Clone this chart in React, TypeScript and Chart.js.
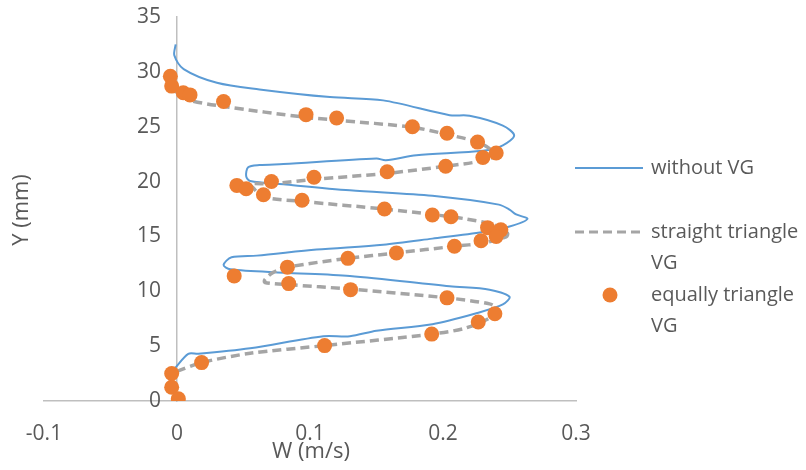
import React, { useEffect, useRef } from "react";
import { Chart, registerables } from "chart.js";

Chart.register(...registerables);

// without VG (solid blue)
const blueX = [-0.0015, 0.0085, 0.016, 0.055, 0.11, 0.13, 0.15, 0.192, 0.225, 0.245, 0.25, 0.235, 0.205, 0.13, 0.08, 0.04, 0.035, 0.041, 0.06, 0.105, 0.155, 0.192, 0.23, 0.25, 0.2635, 0.255, 0.25, 0.242, 0.192, 0.13, 0.08, 0.055, 0.052, 0.0535, 0.062, 0.08, 0.15, 0.157, 0.18, 0.23, 0.245, 0.2535, 0.245, 0.22, 0.205, 0.155, 0.115, 0.062, 0.03, 0.005, -0.002, -0.001];
const blueY = [3.0, 4.3, 4.3, 4.8, 5.9, 5.9, 6.4, 7.0, 8.0, 8.8, 9.5, 10.15, 10.45, 11.4, 11.7, 12.0, 12.4, 13.1, 13.25, 13.8, 14.25, 14.8, 15.4, 15.9, 16.6, 17.0, 17.45, 17.9, 18.7, 19.2, 19.75, 20.05, 20.5, 21.3, 21.5, 21.6, 22.1, 21.95, 22.4, 22.8, 23.3, 24.2, 25.1, 26.0, 26.05, 27.4, 27.7, 28.4, 29.0, 30.25, 31.5, 32.5];

// straight triangle VG (dashed grey)
const greyX = [0, 0.0185, 0.055, 0.111, 0.1915, 0.217, 0.237, 0.24, 0.235, 0.203, 0.13, 0.085, 0.066, 0.066, 0.072, 0.083, 0.1285, 0.165, 0.2086, 0.23, 0.2475, 0.2485, 0.24, 0.217, 0.192, 0.156, 0.0935, 0.065, 0.057, 0.055, 0.071, 0.103, 0.158, 0.202, 0.23, 0.24, 0.235, 0.226, 0.203, 0.177, 0.12, 0.097, 0.035, 0.0098, 0.001, -0.004];
const greyY = [2.7, 3.5, 4.35, 5.05, 6.1, 6.65, 7.7, 8.45, 8.85, 9.4, 10.2, 10.6, 10.8, 11.05, 11.7, 12.2, 13.0, 13.5, 14.1, 14.4, 14.95, 15.3, 16.0, 16.6, 17.0, 17.5, 18.2, 18.6, 19.45, 19.8, 19.8, 20.2, 20.75, 21.4, 21.9, 22.4, 23.0, 23.6, 24.3, 24.95, 25.6, 25.85, 26.85, 27.4, 28.0, 28.6];

// equally triangle VG (orange markers)
const orangeX = [-0.005, -0.004, 0.0047, 0.0098, 0.035, 0.097, 0.12, 0.177, 0.203, 0.226, 0.24, 0.23, 0.202, 0.158, 0.103, 0.071, 0.045, 0.052, 0.065, 0.094, 0.156, 0.192, 0.206, 0.2335, 0.2435, 0.24, 0.2286, 0.2086, 0.165, 0.1285, 0.083, 0.043, 0.084, 0.1305, 0.203, 0.239, 0.2265, 0.1915, 0.111, 0.0185, -0.004, -0.004, 0.001];
const orangeY = [29.6, 28.7, 28.1, 27.9, 27.3, 26.1, 25.8, 25.0, 24.4, 23.6, 22.6, 22.2, 21.4, 20.9, 20.4, 20.0, 19.65, 19.35, 18.8, 18.3, 17.5, 16.95, 16.8, 15.8, 15.6, 15.0, 14.6, 14.1, 13.5, 13.0, 12.2, 11.4, 10.7, 10.15, 9.4, 7.95, 7.2, 6.1, 5.05, 3.5, 2.5, 1.25, 0.2];

const seriesNames = ["without VG", "straight triangle VG", "equally triangle VG"];
const legendLines = [["without VG"], ["straight triangle", "VG"], ["equally triangle", "VG"]];
const xTitle = "W (m/s)";
const yTitle = "Y (mm)";

const BLUE = "#5B9BD5";
const GREY = "#A5A5A5";
const ORANGE = "#ED7D31";
const TEXT = "#595959";
const AXIS = "#BFBFBF";
const FONT = '"Open Sans", sans-serif';

const zip = (xs: number[], ys: number[]) => xs.map((x, i) => ({ x, y: ys[i] }));

const overlayPlugin = {
  id: "overlay",
  afterDraw(chart: any) {
    const ctx = chart.ctx as CanvasRenderingContext2D;
    const ys = chart.scales.y;
    const xs = chart.scales.x;
    ctx.save();
    ctx.fillStyle = TEXT;
    ctx.textBaseline = "middle";

    // y tick labels (next to the axis crossing x = 0)
    ctx.font = `21px ${FONT}`;
    ctx.textAlign = "right";
    const axisX = xs.getPixelForValue(0);
    ys.ticks.forEach((t: any) => {
      ctx.fillText(String(t.value), axisX - 16, ys.getPixelForValue(t.value));
    });

    // axis titles
    ctx.font = `22px ${FONT}`;
    ctx.textAlign = "center";
    ctx.fillText(xTitle, 311, 452);
    ctx.save();
    ctx.translate(22, 210);
    ctx.rotate(-Math.PI / 2);
    ctx.fillText(yTitle, 0, 0);
    ctx.restore();

    // legend
    ctx.font = `20px ${FONT}`;
    ctx.textAlign = "left";
    const rows = [168, 232, 295];
    const lineH = 31;
    rows.forEach((y, i) => {
      if (i === 0) {
        ctx.strokeStyle = BLUE;
        ctx.lineWidth = 2;
        ctx.setLineDash([]);
        ctx.beginPath();
        ctx.moveTo(575, y);
        ctx.lineTo(643, y);
        ctx.stroke();
      } else if (i === 1) {
        ctx.strokeStyle = GREY;
        ctx.lineWidth = 3;
        ctx.setLineDash([9, 5]);
        ctx.beginPath();
        ctx.moveTo(575, y);
        ctx.lineTo(643, y);
        ctx.stroke();
        ctx.setLineDash([]);
      } else {
        ctx.fillStyle = ORANGE;
        ctx.beginPath();
        ctx.arc(610, y, 7.5, 0, Math.PI * 2);
        ctx.fill();
      }
      ctx.fillStyle = TEXT;
      legendLines[i].forEach((t, k) => ctx.fillText(t, 651, y + k * lineH));
    });
    ctx.restore();
  },
};

export default function App() {
  const ref = useRef<HTMLCanvasElement>(null);
  useEffect(() => {
    document.body.style.margin = "0";
    const chart = new Chart(ref.current!, {
      type: "scatter",
      data: {
        datasets: [
          {
            label: seriesNames[0],
            data: zip(blueX, blueY),
            showLine: true,
            borderColor: BLUE,
            borderWidth: 2,
            pointRadius: 0,
            tension: 0.3,
            order: 2,
          },
          {
            label: seriesNames[1],
            data: zip(greyX, greyY),
            showLine: true,
            borderColor: GREY,
            borderWidth: 3.5,
            borderDash: [9, 5],
            pointRadius: 0,
            tension: 0.3,
            order: 1,
          },
          {
            label: seriesNames[2],
            data: zip(orangeX, orangeY),
            showLine: false,
            backgroundColor: ORANGE,
            borderColor: ORANGE,
            pointRadius: 7.5,
            pointBorderWidth: 0,
            order: 0,
          },
        ],
      },
      options: {
        animation: false,
        responsive: false,
        layout: { padding: { left: 44, right: 230, top: 17, bottom: 0 } },
        plugins: { legend: { display: false }, tooltip: { enabled: false } },
        scales: {
          x: {
            type: "linear",
            min: -0.1,
            max: 0.3,
            grid: { display: true, drawOnChartArea: false, drawTicks: false },
            border: { display: true, color: AXIS, width: 1.5 },
            ticks: {
              stepSize: 0.1,
              color: TEXT,
              font: { family: FONT, size: 21 },
              padding: 20,
              callback: (v: any) => String(Math.round(Number(v) * 10) / 10),
            },
            afterFit: (s: any) => {
              s.height = 69;
            },
          },
          y: {
            type: "linear",
            position: { x: 0 } as any,
            min: 0,
            max: 35,
            grid: { display: true, drawOnChartArea: false, drawTicks: false },
            border: { display: true, color: AXIS, width: 1.5 },
            ticks: { stepSize: 5, display: false, padding: 0 },
          },
        },
      },
      plugins: [overlayPlugin],
    });
    return () => chart.destroy();
  }, []);
  return <canvas ref={ref} width={806} height={470} style={{ display: "block" }} />;
}
